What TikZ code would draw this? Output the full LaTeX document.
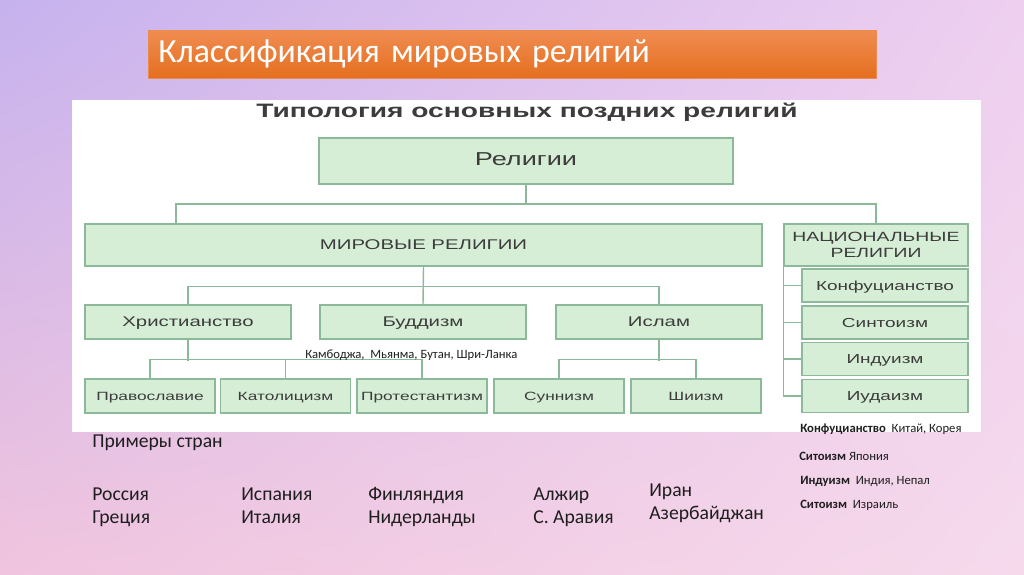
\documentclass[tikz,border=0pt]{standalone}
\usepackage{fontspec}
\setmainfont{Carlito}
\newfontfamily\diafont[FakeStretch=1.45]{Liberation Sans}
\usetikzlibrary{shadings}
\definecolor{bgviolet}{HTML}{C6B2EE}
\definecolor{bgpinkup}{HTML}{EECFF0}
\definecolor{bgpinklow}{HTML}{F0C4DE}
\definecolor{bgpinklr}{HTML}{F6DAEC}
\definecolor{titletop}{HTML}{F08C52}
\definecolor{titlebot}{HTML}{E56F1E}
\definecolor{relfill}{HTML}{D6EDD6}
\definecolor{reldraw}{HTML}{8DB99B}
\definecolor{reltext}{HTML}{3C3C3C}
\definecolor{ctrytext}{HTML}{1E1E1E}

\begin{document}
\begin{tikzpicture}[x=0.025cm, y=-0.025cm,
  relbox/.style={rectangle, draw=reldraw, fill=relfill, line width=1pt, text=reltext, inner sep=0pt, font=\diafont\fontsize{10}{11}\selectfont},
  onerow/.style={text height=0.78em, text depth=0.1em},
  midbox/.style={relbox, onerow, minimum width=5.15cm, minimum height=0.85cm},
  leafbox/.style={relbox, onerow, minimum width=3.25cm, minimum height=0.85cm, font=\diafont\fontsize{8.5}{10}\selectfont},
  natbox/.style={relbox, onerow, minimum width=4.15cm, minimum height=0.83cm, font=\diafont\fontsize{9.3}{11}\selectfont},
  link/.style={draw=reldraw, line width=1pt},
  note/.style={inner sep=0pt, text=ctrytext, font=\fontsize{9}{11}\selectfont},
  ctry/.style={inner sep=0pt, text=ctrytext, font=\fontsize{14}{17}\selectfont},
]
\useasboundingbox (0,0) rectangle (1024,574);
\shade[upper left=bgviolet, upper right=bgpinkup, lower left=bgpinklow, lower right=bgpinklr] (0,0) rectangle (1024,574);
% slide title
\node[anchor=north west, top color=titletop, bottom color=titlebot, draw=titlebot!80, minimum width=18.2cm, minimum height=1.2cm, inner xsep=0.25cm, text width=17.7cm, align=left, text=white, font=\fontsize{24}{28}\selectfont] (title) at (148,30) {Классификация мировых религий};
% white panel of the scheme
\fill[white] (72,100) rectangle (981,432);
\node[text=reltext, font=\diafont\bfseries\fontsize{13.8}{15}\selectfont] (head) at (527,112) {Типология основных поздних религий};
\node[relbox, onerow, minimum width=10.35cm, minimum height=1.15cm, font=\diafont\fontsize{13.3}{15}\selectfont] (rel) at (526,161) {Религии};
\node[relbox, onerow, minimum width=16.925cm, minimum height=1.05cm] (mir) at (423.5,245) {МИРОВЫЕ РЕЛИГИИ};
\node[relbox, minimum width=4.6cm, minimum height=1.05cm, align=center, font=\diafont\fontsize{9.5}{11.2}\selectfont] (nac) at (876,245) {НАЦИОНАЛЬНЫЕ\\РЕЛИГИИ};
\node[midbox] (hr) at (188,322) {Христианство}; \node[midbox] (bud) at (423,322) {Буддизм}; \node[midbox] (isl) at (659,322) {Ислам};
\node[leafbox] (prav) at (150,396) {Православие}; \node[leafbox] (kat) at (285.5,396) {Католицизм}; \node[leafbox] (prot) at (422,396) {Протестантизм};
\node[leafbox] (sun) at (559,396) {Суннизм}; \node[leafbox] (shi) at (696,396) {Шиизм};
\node[natbox] (konf) at (885,285.5) {Конфуцианство}; \node[natbox] (sint) at (885,322.5) {Синтоизм};
\node[natbox] (ind) at (885,359) {Индуизм}; \node[natbox] (iud) at (885,396) {Иудаизм};
% connectors
\coordinate (busa) at (176,204); \coordinate (busb) at (876,204);
\draw[link] (rel.south) -- (rel.south |- busa);
\draw[link] (busa |- mir.north) -- (busa) -- (busb) -- (nac.north);
\draw[link] (mir.south) -- (bud.north);
\draw[link] (hr.north) -- ++(0,-18) -| (isl.north);
\draw[link] (hr.south) -- ++(0,21); \draw[link] (isl.south) -- ++(0,21);
\draw[link] (prav.north) -- ++(0,-19) -| (prot.north); \draw[link] (kat.north) -- ++(0,-19);
\draw[link] (sun.north) -- ++(0,-19) -| (shi.north);
\draw[link] (nac.south west) |- (iud.west);
\foreach \k in {konf, sint, ind} \draw[link] (\k.west) -- (\k.west -| nac.west);
% notes
\node[note, anchor=base west] (kamb) at (305,358) {Камбоджа,\ \ Мьянма, Бутан, Шри-Ланка};
\node[note, anchor=base west] (nkonf) at (800,432) {\textbf{Конфуцианство}\ \ Китай, Корея};
\node[note, anchor=base west] (nsint) at (799,460) {\textbf{Ситоизм} Япония};
\node[note, anchor=base west] (nind) at (800,484) {\textbf{Индуизм}\ \ Индия, Непал};
\node[note, anchor=base west] (niud) at (800,508) {\textbf{Ситоизм}\ \ Израиль};
% countries
\node[ctry, anchor=base west] (prim) at (92,447) {Примеры стран};
\node[ctry, anchor=base west] (ru) at (92,500) {Россия}; \node[ctry, anchor=base west] (gr) at (92,523) {Греция};
\node[ctry, anchor=base west] (es) at (241,500) {Испания}; \node[ctry, anchor=base west] (it) at (241,523) {Италия};
\node[ctry, anchor=base west] (fi) at (368,500) {Финляндия}; \node[ctry, anchor=base west] (nl) at (368,523) {Нидерланды};
\node[ctry, anchor=base west] (dz) at (533,500) {Алжир}; \node[ctry, anchor=base west] (sa) at (533,523) {С. Аравия};
\node[ctry, anchor=base west] (ir) at (649,496) {Иран}; \node[ctry, anchor=base west] (az) at (649,519) {Азербайджан};
\end{tikzpicture}
\end{document}
